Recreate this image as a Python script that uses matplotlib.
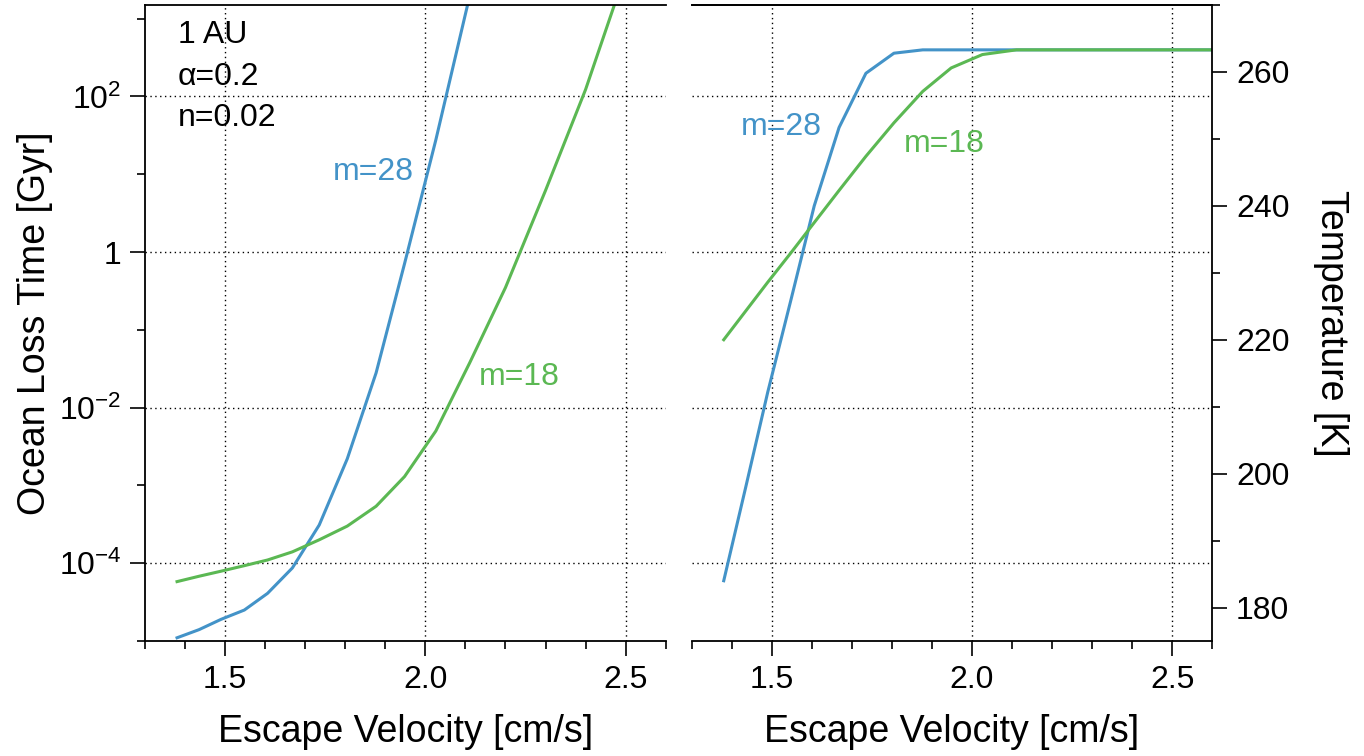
import numpy as np
import matplotlib
matplotlib.use('Agg')
import matplotlib.pyplot as plt
from matplotlib.ticker import FixedLocator, MultipleLocator, NullFormatter

plt.rcParams['font.family'] = ['Liberation Sans', 'DejaVu Sans']
plt.rcParams['mathtext.fontset'] = 'custom'
plt.rcParams['mathtext.rm'] = 'Liberation Sans'
plt.rcParams['mathtext.default'] = 'regular'

# escape velocity grid (shared by both series)
v_esc = [1.38, 1.435, 1.49, 1.548, 1.606, 1.668, 1.735, 1.805, 1.877,
         1.948, 2.026, 2.111, 2.2, 2.3, 2.4, 2.5, 2.6]

# ocean loss time [Gyr]; nan = off the top of the plot
loss_m28 = [1.1e-5, 1.4e-5, 1.9e-5, 2.5e-5, 4.1e-5, 8.7e-5, 3.1e-4, 2.2e-3,
            2.8e-2, 0.71, 27.5, 2000, np.nan, np.nan, np.nan, np.nan, np.nan]
loss_m18 = [5.8e-5, 6.8e-5, 7.9e-5, 9.3e-5, 1.1e-4, 1.4e-4, 2.0e-4, 3.0e-4,
            5.4e-4, 1.3e-3, 5.0e-3, 3.8e-2, 0.35, 6.2, 123, 4000, np.nan]

# temperature [K]
temp_m28 = [184.0, 198.0, 212.2, 226.0, 240.0, 251.7, 259.8, 262.8, 263.3,
            263.3, 263.3, 263.3, 263.3, 263.3, 263.3, 263.3, 263.3]
temp_m18 = [220.0, 224.3, 228.6, 233.0, 237.5, 242.3, 247.4, 252.4, 257.1,
            260.6, 262.6, 263.3, 263.3, 263.3, 263.3, 263.3, 263.3]

yticks_major = [1e-4, 1e-2, 1, 1e2]
yticks_labels = ['$10^{-4}$', '$10^{-2}$', '1', '$10^{2}$']
yticks_minor = [1e-5, 1e-3, 1e-1, 10, 1e3]

blue = '#4393c8'
green = '#5bb853'
fs_tick = 23
fs_label = 27
dots = (0, (1, 2.5))

fig = plt.figure(figsize=(13.64, 7.56), dpi=100)
W, H = 1364, 756
bot, top = 641, 5
axL = fig.add_axes([145 / W, (H - bot) / H, (665.7 - 145) / W, (bot - top) / H])
axR = fig.add_axes([691.7 / W, (H - bot) / H, (1212.3 - 691.7) / W, (bot - top) / H])
axT = axR.twinx()

for ax in (axL, axR):
    ax.set_yscale('log')
    ax.set_xlim(1.3, 2.6)
    ax.set_ylim(1e-5, 1.5e3)
    ax.xaxis.set_major_locator(MultipleLocator(0.5))
    ax.xaxis.set_minor_locator(MultipleLocator(0.1))
    ax.yaxis.set_major_locator(FixedLocator(yticks_major))
    ax.yaxis.set_minor_locator(FixedLocator(yticks_minor))
    ax.yaxis.set_minor_formatter(NullFormatter())
    ax.grid(True, which='major', linestyle=dots, color='black', linewidth=1.0)
    ax.tick_params(axis='both', which='major', direction='out', length=11, width=1.2,
                   labelsize=fs_tick, pad=6)
    ax.tick_params(axis='both', which='minor', direction='out', length=5.5, width=1.2)
    ax.tick_params(top=False, which='both')
    for s in ax.spines.values():
        s.set_linewidth(1.3)
    ax.set_xlabel('Escape Velocity [cm/s]', fontsize=fs_label, labelpad=14)

axL.spines['right'].set_visible(False)
axL.tick_params(axis='y', which='both', right=False)
axL.set_yticklabels(yticks_labels)
axL.set_ylabel('Ocean Loss Time [Gyr]', fontsize=fs_label, labelpad=4)

axR.spines['left'].set_visible(False)
axR.spines['right'].set_visible(False)
axR.tick_params(axis='y', which='both', left=False, right=False,
                labelleft=False, labelright=False)

axL.plot(v_esc, loss_m28, color=blue, linewidth=2.2)
axL.plot(v_esc, loss_m18, color=green, linewidth=2.2)

axL.text(0.063, 0.940, '1 AU', transform=axL.transAxes, fontsize=fs_tick, va='baseline')
axL.text(0.063, 0.874, 'α=0.2', transform=axL.transAxes, fontsize=fs_tick, va='baseline')
axL.text(0.063, 0.810, 'n=0.02', transform=axL.transAxes, fontsize=fs_tick, va='baseline')
axL.text(1.77, 8.5, 'm=28', color=blue, fontsize=fs_tick, va='baseline')
axL.text(2.1325, 0.0195, 'm=18', color=green, fontsize=fs_tick, va='baseline')

axT.set_ylim(175, 270)
axT.yaxis.set_major_locator(MultipleLocator(20))
axT.yaxis.set_minor_locator(MultipleLocator(10))
axT.tick_params(axis='y', which='major', direction='out', length=11, width=1.2,
                labelsize=fs_tick, pad=6)
axT.tick_params(axis='y', which='minor', direction='out', length=5.5, width=1.2)
for s in axT.spines.values():
    s.set_linewidth(1.3)
axT.spines['left'].set_visible(False)
axT.spines['bottom'].set_visible(False)
axT.set_ylabel('Temperature [K]', fontsize=fs_label, rotation=270, va='bottom', labelpad=17)

axT.plot(v_esc, temp_m28, color=blue, linewidth=2.2)
axT.plot(v_esc, temp_m18, color=green, linewidth=2.2)
axT.text(1.4225, 250.6, 'm=28', color=blue, fontsize=fs_tick, va='baseline')
axT.text(1.8308, 248.1, 'm=18', color=green, fontsize=fs_tick, va='baseline')

fig.savefig('out.png', dpi=100)
